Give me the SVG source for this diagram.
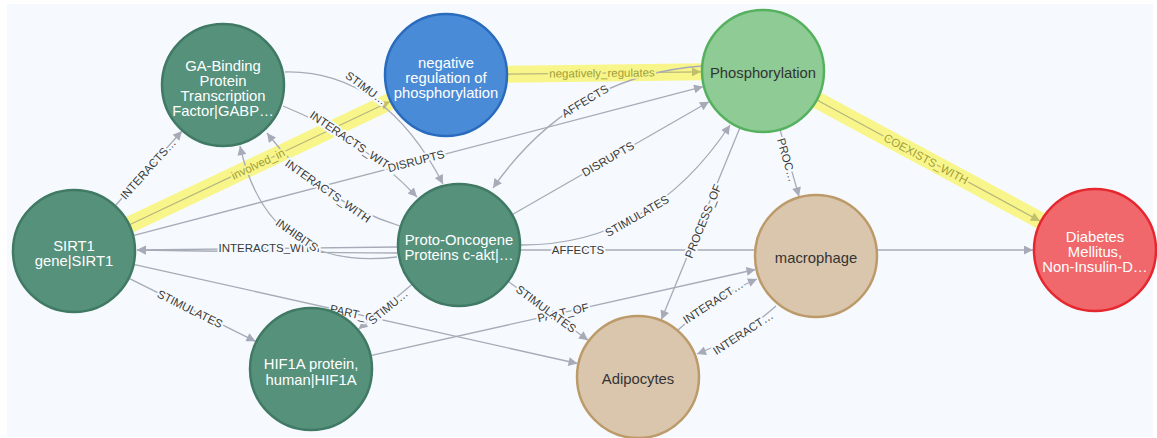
<svg xmlns="http://www.w3.org/2000/svg" width="1157" height="438" viewBox="0 0 1157 438">
  <defs>
    <style>
      .edge { fill: none; stroke: #a6abb7; stroke-width: 1.3; }
      .band { fill: none; stroke: #f8f68a; stroke-width: 17; }
      .hl { fill: none; stroke: #b9b67d; stroke-width: 1.3; }
      .lbl { font-family: "Liberation Sans", Arial, sans-serif; font-size: 11.5px; fill: #3a3a3a; text-anchor: middle;
             stroke: #f6fafe; stroke-width: 4; stroke-linejoin: round; paint-order: stroke; }
      .lbl.on { fill: #a09d3a; stroke: #f8f68a; }
      .node text { font-family: "Liberation Sans", Arial, sans-serif; font-size: 14.8px; text-anchor: middle; }
      .node circle { stroke-width: 2.5; }
      .teal circle { fill: #56917c; stroke: #417a64; }
      .teal text, .blue text, .red text { fill: #ffffff; }
      .blue circle { fill: #4a8bd8; stroke: #2a6bbd; }
      .green circle { fill: #8ecb95; stroke: #56b15f; }
      .tan circle { fill: #d9c6ad; stroke: #bc9a6a; }
      .red circle { fill: #f0686c; stroke: #e5282f; }
      .green text, .tan text { fill: #333333; }
    </style>
    <marker id="arr" viewBox="0 0 10 10" refX="10" refY="5" markerWidth="11" markerHeight="9" markerUnits="userSpaceOnUse" orient="auto">
      <path d="M0,0 L10,5 L0,10 z" fill="#a6abb7"/>
    </marker>
    <marker id="arr-hl" viewBox="0 0 10 10" refX="10" refY="5" markerWidth="11" markerHeight="9" markerUnits="userSpaceOnUse" orient="auto">
      <path d="M0,0 L10,5 L0,10 z" fill="#c2bf6a"/>
    </marker>
  </defs>

  <rect x="0" y="0" width="1157" height="438" fill="#ffffff"/>
  <rect x="7" y="4" width="1146" height="433" fill="#f6fafe"/>

  <g id="connectors">
    <!-- highlighted paths: yellow bands underneath -->
    <path class="band" d="M74,251 L446,75"/>
    <path class="band" d="M446,75 L763,71"/>
    <path class="band" d="M763,71 L1095,250"/>

    <path class="hl" d="M129,225 L390,101.5" marker-end="url(#arr-hl)"/>
    <path class="hl" d="M507,74.2 L701,71.8" marker-end="url(#arr-hl)"/>
    <path class="hl" d="M817,100 L1040,221" marker-end="url(#arr-hl)"/>

    <!-- ordinary relations -->
    <path class="edge" d="M115,206 L182,131" marker-end="url(#arr)"/>
    <path class="edge" d="M285,72 Q384,70 443,184" marker-end="url(#arr)"/>
    <path class="edge" d="M283,106 Q360,137 417,197" marker-end="url(#arr)"/>
    <path class="edge" d="M400,226 Q319,201 267,133" marker-end="url(#arr)"/>
    <path class="edge" d="M397,257 Q268,272 240,146" marker-end="url(#arr)"/>
    <path class="edge" d="M398,247 L137,250" marker-end="url(#arr)"/>
    <path class="edge" d="M398,253 Q330,253 137,250" marker-end="url(#arr)"/>
    <path class="edge" d="M133,235.6 L703,86.7" marker-end="url(#arr)"/>
    <path class="edge" d="M512,214.7 L709,101.8" marker-end="url(#arr)"/>
    <path class="edge" d="M703,66 Q572,75 493,188" marker-end="url(#arr)"/>
    <path class="edge" d="M520,245 Q650,246 730,125" marker-end="url(#arr)"/>
    <path class="edge" d="M520,250 L1033,250" marker-end="url(#arr)"/>
    <path class="edge" d="M780,129.6 L799,196.4" marker-end="url(#arr)"/>
    <path class="edge" d="M740,127.5 L661.4,319.6" marker-end="url(#arr)"/>
    <path class="edge" d="M678,330 Q713,298 757,279" marker-end="url(#arr)"/>
    <path class="edge" d="M776,306 Q741,337 697,354" marker-end="url(#arr)"/>
    <path class="edge" d="M370.5,355.7 L755.5,269.5" marker-end="url(#arr)"/>
    <path class="edge" d="M133.5,264.3 L577.5,363.5" marker-end="url(#arr)"/>
    <path class="edge" d="M128.6,278.2 L255.5,341.3" marker-end="url(#arr)"/>
    <path class="edge" d="M412.2,284.2 L358.5,329.2" marker-end="url(#arr)"/>
    <path class="edge" d="M508,281.2 L588.1,340.2" marker-end="url(#arr)"/>

    <!-- relation labels -->
    <text class="lbl on" transform="translate(258,164) rotate(-25.3)" dy="0.35em">involved_in</text>
    <text class="lbl on" transform="translate(602,73) rotate(-0.6)" dy="0.35em">negatively_regulates</text>
    <text class="lbl on" transform="translate(926,159) rotate(28.3)" dy="0.35em">COEXISTS_WITH</text>

    <text class="lbl" transform="translate(148,169) rotate(-48.2)" dy="0.35em">INTERACTS…</text>
    <text class="lbl" transform="translate(366,88) rotate(36)" dy="0.35em">STIMU…</text>
    <text class="lbl" transform="translate(353,142) rotate(34)" dy="0.35em">INTERACTS_WITH</text>
    <text class="lbl" transform="translate(328,191) rotate(35)" dy="0.35em">INTERACTS_WITH</text>
    <text class="lbl" transform="translate(269,248)" dy="0.35em">INTERACTS_WITH</text>
    <text class="lbl" transform="translate(297,235) rotate(35)" dy="0.35em">INHIBITS</text>
    <text class="lbl" transform="translate(416,161) rotate(-14.6)" dy="0.35em">DISRUPTS</text>
    <text class="lbl" transform="translate(608,159) rotate(-29.8)" dy="0.35em">DISRUPTS</text>
    <text class="lbl" transform="translate(585,101) rotate(-31)" dy="0.35em">AFFECTS</text>
    <text class="lbl" transform="translate(637,216) rotate(-30)" dy="0.35em">STIMULATES</text>
    <text class="lbl" transform="translate(578,250)" dy="0.35em">AFFECTS</text>
    <text class="lbl" transform="translate(787,160) rotate(74)" dy="0.35em">PROC…</text>
    <text class="lbl" transform="translate(703,221) rotate(-67.8)" dy="0.35em">PROCESS_OF</text>
    <text class="lbl" transform="translate(713,302) rotate(-33)" dy="0.35em">INTERACT…</text>
    <text class="lbl" transform="translate(743,333) rotate(-33)" dy="0.35em">INTERACT…</text>
    <text class="lbl" transform="translate(355.5,314) rotate(12.6)" dy="0.35em">PART_OF</text>
    <text class="lbl" transform="translate(563,312.6) rotate(-12.6)" dy="0.35em">PART_OF</text>
    <text class="lbl" transform="translate(190,309) rotate(26.5)" dy="0.35em">STIMULATES</text>
    <text class="lbl" transform="translate(388,307) rotate(-40)" dy="0.35em">STIMU…</text>
    <text class="lbl" transform="translate(546,309) rotate(36.4)" dy="0.35em">STIMULATES</text>
  </g>

  <g id="node-gabp" class="node teal">
    <circle cx="223" cy="85" r="61"/>
    <text><tspan x="223" y="70.5">GA-Binding</tspan><tspan x="223" y="85.5">Protein</tspan><tspan x="223" y="100.5">Transcription</tspan><tspan x="223" y="115.5">Factor|GABP…</tspan></text>
  </g>
  <g id="node-neg-reg" class="node blue">
    <circle cx="446" cy="75" r="61"/>
    <text><tspan x="446" y="67.5">negative</tspan><tspan x="446" y="82.5">regulation of</tspan><tspan x="446" y="97.5">phosphorylation</tspan></text>
  </g>
  <g id="node-phosphorylation" class="node green">
    <circle cx="763" cy="71" r="61"/>
    <text x="763" y="77.5">Phosphorylation</text>
  </g>
  <g id="node-sirt1" class="node teal">
    <circle cx="74" cy="251" r="61"/>
    <text><tspan x="74" y="250.5">SIRT1</tspan><tspan x="74" y="265.5">gene|SIRT1</tspan></text>
  </g>
  <g id="node-akt" class="node teal">
    <circle cx="459" cy="245" r="61"/>
    <text><tspan x="459" y="245">Proto-Oncogene</tspan><tspan x="459" y="260">Proteins c-akt|…</tspan></text>
  </g>
  <g id="node-hif1a" class="node teal">
    <circle cx="311" cy="369" r="61"/>
    <text><tspan x="311" y="369">HIF1A protein,</tspan><tspan x="311" y="384.5">human|HIF1A</tspan></text>
  </g>
  <g id="node-adipocytes" class="node tan">
    <circle cx="638" cy="377" r="61"/>
    <text x="638" y="384">Adipocytes</text>
  </g>
  <g id="node-macrophage" class="node tan">
    <circle cx="816" cy="256" r="61"/>
    <text x="816" y="263">macrophage</text>
  </g>
  <g id="node-diabetes" class="node red">
    <circle cx="1095" cy="250" r="61"/>
    <text><tspan x="1095" y="242">Diabetes</tspan><tspan x="1095" y="257">Mellitus,</tspan><tspan x="1095" y="272">Non-Insulin-D…</tspan></text>
  </g>
</svg>
